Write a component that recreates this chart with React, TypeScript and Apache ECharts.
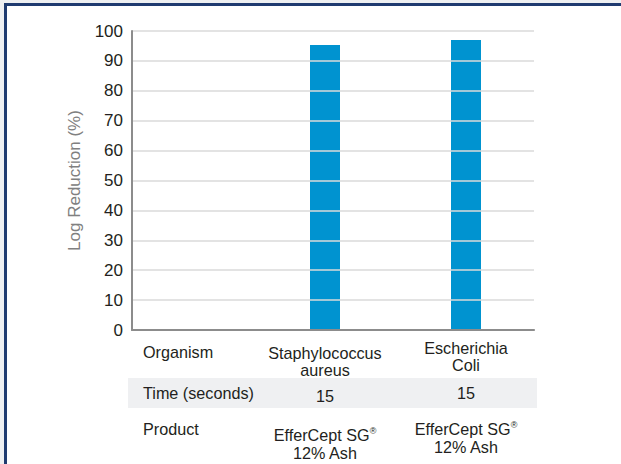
import React, { useEffect, useRef } from "react";
import * as echarts from "echarts";

// Table rows under the chart (one entry per column)
const organisms = ["Organism", "Staphylococcus\naureus", "Escherichia\nColi"];
const exposureTimes = ["Time (seconds)", "15", "15"];
const products = ["Product", "EfferCept SG®\n12% Ash", "EfferCept SG®\n12% Ash"];

// Log reduction (%) per column; the header column has no bar
const logReduction: (number | null)[] = [null, 95.3, 97.0];

// Y axis scale
const yMin = 0;
const yMax = 100;
const yStep = 10;

const FONT = "'Liberation Sans', Arial, Helvetica, sans-serif";
const TEXT = "#231f20";

// Wrap each line of a cell in rich-text tags; the header column is left aligned
function toRich(text: string, index: number): string {
  return text
    .split("\n")
    .map((line) =>
      index === 0
        ? `{h|${line}}`
        : line
            .split("®")
            .map((s) => (s ? `{v|${s}}` : ""))
            .join("{sup|®}")
    )
    .join("\n");
}

function richStyles(lineHeight: number) {
  return {
    h: { width: 82, align: "left", fontSize: 16.2, lineHeight, color: TEXT, fontFamily: FONT },
    v: { fontSize: 16.2, lineHeight, color: TEXT, fontFamily: FONT },
    sup: { fontSize: 9, lineHeight: 10, verticalAlign: "top", color: TEXT, fontFamily: FONT },
  };
}

function tableAxis(
  values: string[],
  offset: number,
  margin: number,
  lineHeight: number,
  pads: number[]
) {
  return {
    type: "category",
    gridIndex: 1,
    position: "bottom",
    offset,
    z: 5,
    data: values.map((v, i) => ({ value: v, textStyle: { padding: [pads[i], 0, 0, 0] } })),
    axisLine: { show: false },
    axisTick: { show: false },
    splitLine: { show: false },
    axisLabel: {
      interval: 0,
      margin,
      formatter: (value: string, index: number) => toRich(value, index),
      rich: richStyles(lineHeight),
    },
  };
}

export default function App() {
  const ref = useRef<HTMLDivElement>(null);

  useEffect(() => {
    const chart = echarts.init(ref.current!, null, { renderer: "svg" });
    chart.setOption({
      animation: false,
      textStyle: { fontFamily: FONT },
      grid: [
        { left: 132, right: 87, top: 31, bottom: 134, containLabel: false },
        { left: 113.5, right: 84.5, top: 31, bottom: 134, containLabel: false },
      ],
      graphic: [
        {
          type: "rect",
          z: 0,
          shape: { x: 128, y: 378, width: 409, height: 30 },
          style: { fill: "#eff0f2" },
        },
      ],
      xAxis: [
        {
          type: "category",
          gridIndex: 0,
          data: organisms,
          axisLine: { show: true, lineStyle: { color: "#8c8c8c", width: 2.2 } },
          axisTick: { show: false },
          axisLabel: { show: false },
          splitLine: { show: false },
          z: 6,
        },
        tableAxis(organisms, 0, 9, 17, [4, 5, 0]),
        tableAxis(exposureTimes, 54, 0, 18, [0, 3, 0]),
        tableAxis(products, 90, 0, 18, [0, 6, 0]),
      ],
      yAxis: [
        {
          type: "value",
          gridIndex: 0,
          min: yMin,
          max: yMax,
          interval: yStep,
          name: "Log Reduction (%)",
          nameLocation: "middle",
          nameRotate: 90,
          nameGap: 49,
          nameTextStyle: { fontSize: 17, color: "#808080", fontFamily: FONT },
          axisLine: { show: true, lineStyle: { color: "#8c8c8c", width: 2 } },
          axisTick: { show: false },
          axisLabel: { fontSize: 17, color: TEXT, margin: 9 },
          splitLine: { show: true, lineStyle: { color: "#dadada", width: 1.6 } },
          z: 6,
        },
        {
          type: "value",
          gridIndex: 1,
          min: yMin,
          max: yMax,
          interval: yStep,
          show: false,
        },
      ],
      series: [
        {
          type: "bar",
          xAxisIndex: 1,
          yAxisIndex: 1,
          data: logReduction,
          barWidth: 30,
          itemStyle: { color: "#0093d0" },
          z: 3,
        },
      ],
    });
    return () => chart.dispose();
  }, []);

  return (
    <div
      style={{
        position: "absolute",
        left: 0,
        top: 0,
        width: 621,
        height: 464,
        background: "#eef0f2",
        overflow: "hidden",
      }}
    >
      <div
        style={{
          position: "absolute",
          left: 4,
          top: 3,
          width: 700,
          height: 600,
          border: "3px solid #1f3b70",
          background: "#ffffff",
        }}
      />
      <div ref={ref} style={{ position: "absolute", left: 0, top: 0, width: 621, height: 464 }} />
    </div>
  );
}
